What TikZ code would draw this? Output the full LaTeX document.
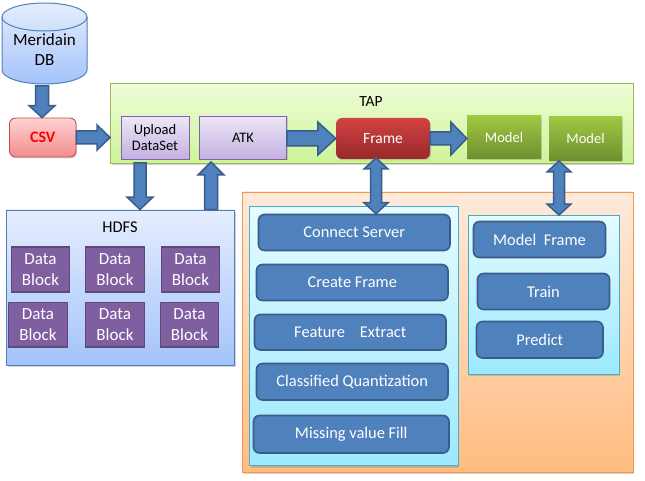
\documentclass[tikz,border=0pt]{standalone}
\usepackage{fontspec}
\setmainfont{Carlito}
\usetikzlibrary{calc,shadows}
\definecolor{arrowfill}{HTML}{4F81BD}
\definecolor{arrowline}{HTML}{385D8A}
\definecolor{blockfill}{HTML}{7F5F9F}
\definecolor{blockline}{HTML}{5F497A}
\definecolor{purpleline}{HTML}{8064A2}
\definecolor{purpletop}{HTML}{EEE7F8}
\definecolor{purplelow}{HTML}{C3B0E0}
\definecolor{taptop}{HTML}{EFFCD8}
\definecolor{taplow}{HTML}{CDF498}
\definecolor{tapline}{HTML}{9BBB59}
\definecolor{skytop}{HTML}{E5EDFD}
\definecolor{skylow}{HTML}{A4C3FA}
\definecolor{orangetop}{HTML}{FEEADC}
\definecolor{orangelow}{HTML}{FFBC80}
\definecolor{orangeline}{HTML}{F79646}
\definecolor{cyantop}{HTML}{E5FBFF}
\definecolor{cyanlow}{HTML}{9CE9FD}
\definecolor{cyanline}{HTML}{4BACC6}
\definecolor{modeltop}{HTML}{9FC843}
\definecolor{modellow}{HTML}{6F8E2F}
\definecolor{frametop}{HTML}{D24242}
\definecolor{framelow}{HTML}{98292B}
\definecolor{csvtop}{HTML}{FFD2D2}
\definecolor{csvlow}{HTML}{F28C8C}
\definecolor{csvline}{HTML}{C0504D}
\tikzset{
	panel/.style={draw,line width=.9pt,inner sep=0pt,drop shadow={shadow xshift=1pt,shadow yshift=-2pt,opacity=.35}},
	skypanel/.style={panel,draw=cyanline,top color=cyantop,bottom color=cyanlow},
	bluebox/.style={draw=arrowline,fill=arrowfill,line width=1.6pt,rounded corners=6pt,text=white,inner sep=0pt,font=\fontsize{16.4}{20}\selectfont},
	datablock/.style={draw=blockline,fill=blockfill,line width=1.8pt,text=white,inner sep=0pt,align=center,minimum width=58pt,minimum height=44.5pt,font=\fontsize{17}{20.5}\selectfont},
	purplebox/.style={draw=purpleline,top color=purpletop,bottom color=purplelow,line width=.9pt,inner sep=0pt,align=center,drop shadow={shadow xshift=1pt,shadow yshift=-1.5pt,opacity=.3}},
	modelbox/.style={top color=modeltop,bottom color=modellow,inner sep=0pt,text=white,font=\fontsize{14.5}{17}\selectfont,minimum width=74pt,minimum height=43pt,drop shadow={shadow xshift=1pt,shadow yshift=-1.5pt,opacity=.3}},
	blockarrow/.style n args={3}{draw=arrowline,fill=arrowfill,line width=1.5pt,line join=miter,
		to path={-- ($(\tikztostart)!#1!90:(\tikztotarget)$)
			-- ($(\tikztotarget)!#3!(\tikztostart)!#1!90:(\tikztotarget)$)
			-- ($(\tikztotarget)!#3!(\tikztostart)!#2!90:(\tikztotarget)$)
			-- (\tikztotarget)
			-- ($(\tikztotarget)!#3!(\tikztostart)!#2!-90:(\tikztotarget)$)
			-- ($(\tikztotarget)!#3!(\tikztostart)!#1!-90:(\tikztotarget)$)
			-- ($(\tikztostart)!#1!-90:(\tikztotarget)$) -- cycle}},
	bothways/.style n args={3}{draw=arrowline,fill=arrowfill,line width=1.5pt,line join=miter,
		to path={-- ($(\tikztostart)!#3!(\tikztotarget)!#2!90:(\tikztotarget)$)
			-- ($(\tikztostart)!#3!(\tikztotarget)!#1!90:(\tikztotarget)$)
			-- ($(\tikztotarget)!#3!(\tikztostart)!#1!90:(\tikztotarget)$)
			-- ($(\tikztotarget)!#3!(\tikztostart)!#2!90:(\tikztotarget)$)
			-- (\tikztotarget)
			-- ($(\tikztotarget)!#3!(\tikztostart)!#2!-90:(\tikztotarget)$)
			-- ($(\tikztotarget)!#3!(\tikztostart)!#1!-90:(\tikztotarget)$)
			-- ($(\tikztostart)!#3!(\tikztotarget)!#1!-90:(\tikztotarget)$)
			-- ($(\tikztostart)!#3!(\tikztotarget)!#2!-90:(\tikztotarget)$) -- cycle}}
}
\begin{document}
\begin{tikzpicture}[x=1pt,y=-1pt,font=\fontsize{16.4}{20}\selectfont]
	\useasboundingbox (0,0) rectangle (645,481);
	% panels
	\node (tap) [panel,draw=tapline,top color=taptop,bottom color=taplow,minimum width=522.5pt,minimum height=79.5pt] at(371.75,123.25) {};
	\node (tapname) at(371,102) {\fontsize{15.5}{18}\selectfont TAP};
	\node (hdfs) [panel,draw=arrowfill,top color=skytop,bottom color=skylow,minimum width=228pt,minimum height=155pt] at(120.5,287.5) {};
	\node (hdfsname) at(120,227) {HDFS};
	\node (work) [panel,draw=orangeline,top color=orangetop,bottom color=orangelow,minimum width=390.5pt,minimum height=280pt] at(437.75,332) {};
	\node (prep) [skypanel,minimum width=208.5pt,minimum height=259pt] at(353.75,336) {};
	\node (learn) [skypanel,minimum width=151pt,minimum height=158.5pt] at(543.5,294.75) {};
	% source
	\path [draw=arrowfill,line width=1pt,top color=skytop,bottom color=skylow] (2,17) -- (2,70) arc[start angle=180,end angle=360,x radius=42.5pt,y radius=14pt] -- (87,17) arc[start angle=0,end angle=180,x radius=42.5pt,y radius=14pt] -- cycle;
	\draw [arrowfill,line width=1pt] (2,17) arc[start angle=180,end angle=360,x radius=42.5pt,y radius=14pt];
	\node (dbase) [align=center,inner sep=0pt,font=\fontsize{17}{20}\selectfont] at(44.5,49.5) {Meridain\\DB};
	\node (csv) [draw=csvline,top color=csvtop,bottom color=csvlow,rounded corners=6pt,line width=.9pt,text=red,minimum width=66.5pt,minimum height=39pt,inner sep=0pt,font=\bfseries\fontsize{16}{18}\selectfont,drop shadow={shadow xshift=1pt,shadow yshift=-1.5pt,opacity=.3}] at(42.75,137.5) {CSV};
	% tap row
	\node (upload) [purplebox,minimum width=68pt,minimum height=43pt,font=\fontsize{14.5}{16.5}\selectfont] at(155,137.5) {Upload\\DataSet};
	\node (atk) [purplebox,minimum width=87pt,minimum height=43pt,font=\fontsize{14.5}{17}\selectfont] at(243,137.5) {ATK};
	\node (frame) [top color=frametop,bottom color=framelow,rounded corners=6pt,text=white,minimum width=94pt,minimum height=41pt,inner sep=0pt,font=\fontsize{15.5}{18}\selectfont,drop shadow={shadow xshift=1pt,shadow yshift=-1.5pt,opacity=.3}] at(383,138.5) {Frame};
	\node (modelA) [modelbox] at(504,137.5) {Model};
	\node (modelB) [modelbox,minimum width=73pt,minimum height=44pt] at(585.5,139) {Model};
	% data blocks
	\node (blockA) [datablock] at(40.5,269.5) {Data\\Block};
	\node (blockB) [datablock,minimum width=59pt] at(115,269.5) {Data\\Block};
	\node (blockC) [datablock] at(190.5,269.5) {Data\\Block};
	\node (blockD) [datablock,minimum width=59pt] at(38,324.75) {Data\\Block};
	\node (blockE) [datablock,minimum width=59pt] at(115,324.75) {Data\\Block};
	\node (blockF) [datablock] at(189.5,324.75) {Data\\Block};
	% steps
	\node (connect) [bluebox,minimum width=191.5pt,minimum height=36pt] at(354.25,232.5) {Connect Server};
	\node (create) [bluebox,minimum width=191.5pt,minimum height=36pt] at(352.25,282.5) {Create Frame};
	\node (feature) [bluebox,minimum width=191.5pt,minimum height=35.5pt] at(350.25,332.25) {Feature\ \ \ \ Extract};
	\node (classify) [bluebox,minimum width=191.5pt,minimum height=36.5pt] at(352.25,381.75) {Classified Quantization};
	\node (missing) [bluebox,minimum width=195.5pt,minimum height=37.5pt] at(351.25,434.25) {Missing value Fill};
	\node (mframe) [bluebox,minimum width=132pt,minimum height=36pt] at(539.5,239.5) {Model\ \ Frame};
	\node (train) [bluebox,minimum width=132pt,minimum height=36pt] at(543.5,291.5) {Train};
	\node (predict) [bluebox,minimum width=126.5pt,minimum height=36.5pt] at(539.75,339.75) {Predict};
	% ports
	\coordinate (dbaseport) at(42,86);
	\coordinate (uploadport) at(140,163);
	\coordinate (atkport) at(211,162);
	\coordinate (frameport) at(376,158);
	\coordinate (modelport) at(559,161);
	% arrows
	\draw [blockarrow={6.5pt}{13pt}{12pt}] (dbaseport) to (dbaseport |- csv.north);
	\draw [blockarrow={6.5pt}{12.5pt}{13pt}] (csv.east) to (tap.west |- csv.east);
	\draw [blockarrow={7.5pt}{16.5pt}{18pt}] (atk.east |- frame.west) to (frame.west);
	\draw [blockarrow={6.5pt}{16.5pt}{16pt}] (frame.east) to (modelA.west |- frame.east);
	\draw [blockarrow={6pt}{13pt}{12.5pt}] (uploadport) to (uploadport |- hdfs.north);
	\draw [blockarrow={6.5pt}{13pt}{13pt}] (atkport |- hdfs.north) to (atkport);
	\draw [bothways={5.5pt}{12pt}{11pt}] (frameport) to (frameport |- connect.north);
	\draw [bothways={5.5pt}{12pt}{11pt}] (modelport) to (modelport |- learn.north);
\end{tikzpicture}
\end{document}
